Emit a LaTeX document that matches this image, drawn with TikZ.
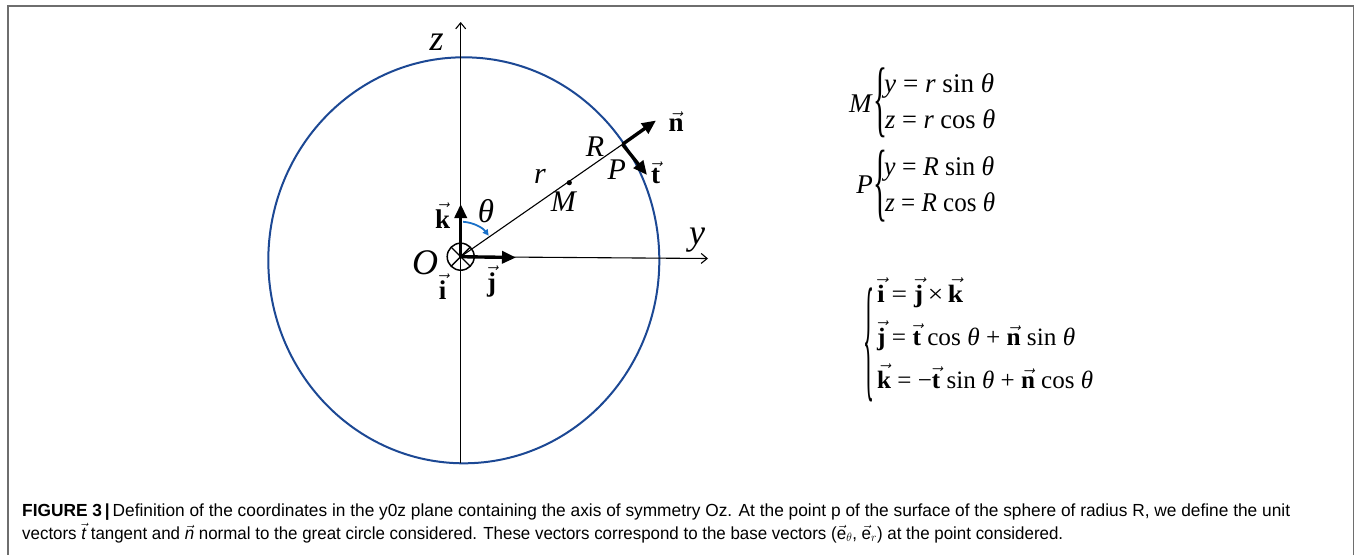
\documentclass[tikz,border=0pt]{standalone}
\usepackage{fontspec}
\setmainfont{Liberation Serif}
\setsansfont{Liberation Sans}
\usetikzlibrary{arrows.meta,calc}
\definecolor{circblue}{RGB}{28,72,148}
\definecolor{arcblue}{RGB}{25,112,200}
\definecolor{framegray}{RGB}{110,110,110}
\newcommand\bvec[1]{\ensuremath{\vec{\textbf{#1}}}}
\newcommand\fsz[1]{\fontsize{#1}{#1}\selectfont}
\newcommand\bigbrace[2]{\resizebox*{#1}{#2}{\fontsize{30}{30}\selectfont\{}}
\tikzset{
  axisline/.style={line width=1.1pt,-{Straight Barb[length=6pt,width=10pt,line width=1.1pt]}},
  vecarrow/.style={line width=3.4pt,-{Triangle[length=14pt,width=12pt]}},
  thinline/.style={line width=1.1pt},
  lblbig/.style={inner sep=0pt,font=\fsz{36}\itshape},
  lblmid/.style={inner sep=0pt,font=\fsz{30}\itshape},
  lblvec/.style={inner sep=0pt,font=\fsz{27}},
  eqrow/.style={inner sep=0pt,anchor=base west,font=\fsz{27}},
  vecrow/.style={inner sep=0pt,anchor=base west,font=\fsz{25}},
  bracenode/.style={inner sep=0pt},
  caprow/.style={inner sep=0pt,anchor=base west,font=\fsz{17.5}\sffamily},
}
\begin{document}
\begin{tikzpicture}[x=1pt,y=-1pt]
\useasboundingbox (0,0) rectangle (1356,554);
% frame
\draw[framegray,line width=1.6pt] (8,556) -- (8,6) -- (1353.5,6) -- (1353.5,556);

% sphere (great circle)
\coordinate (C) at (463.8,260.3);
\draw[circblue,line width=2pt] (C) ellipse[x radius=195.5,y radius=203];

% points
\coordinate (O) at (460.7,256.7);
\coordinate (zbot) at (460.7,463.3);
\coordinate (ztip) at (460.7,22);
\coordinate (ytip) at (708,258.5);
\coordinate (P) at (622.5,144.3);
\coordinate (M) at (569.3,182.7);
\coordinate (ktip) at (460.7,204);
\coordinate (jtip) at (516,257.5);
\coordinate (ntip) at (656,120.5);
\coordinate (ttip) at (647,175);

% axes
\draw[axisline] (zbot) -- (ztip);
\draw[axisline] (O) -- (ytip);
% ray O-P
\draw[thinline] (O) -- (P);
\fill (M) circle (2.6);
% vectors
\draw[vecarrow] (O) -- (ktip);
\draw[vecarrow] (O) -- (jtip);
\draw[vecarrow] (P) -- (ntip);
\draw[vecarrow] (P) -- (ttip);
% i vector (into the page)
\draw[line width=1.5pt] (O) circle (13.5);
\draw[line width=1.3pt] ($(O)+(-45:13.5)$) -- ($(O)+(135:13.5)$);
\draw[line width=1.3pt] ($(O)+(45:13.5)$) -- ($(O)+(-135:13.5)$);
% angle theta
\draw[arcblue,line width=1.8pt,-{Triangle[length=6pt,width=6pt]}]
  ($(O)+(-86:35)$) arc[start angle=-86,end angle=-37,radius=35];

% labels
\node[lblbig] (lz) at (436.7,42) {z};
\node[lblbig] (ly) at (697,240) {y};
\node[lblbig] (lO) at (425,262.7) {O};
\node[lblmid] (lr) at (540,176.7) {r};
\node[lblmid] (lM) at (563.3,202) {M};
\node[lblmid] (lR) at (595,146.7) {R};
\node[lblmid] (lP) at (616.7,170) {P};
\node[lblmid,font=\fsz{33}\itshape] (lth) at (486,210.7) {θ};
\node[lblvec] (lk) at (442.7,216) {\bvec{k}};
\node[lblvec] (li) at (442.7,286.7) {\bvec{i}};
\node[lblvec] (lj) at (491.7,281.7) {\bvec{j}};
\node[lblvec] (ln) at (676,122) {\bvec{n}};
\node[lblvec] (lt) at (655.5,173) {\bvec{t}};

% equations for M
\node[eqrow,anchor=base east] (eMl) at (873,112) {\textit{M}};
\node[bracenode] (bM) at (880,103) {\bigbrace{14pt}{70pt}};
\node[eqrow] (eM1) at (884,92) {\resizebox{110pt}{\height}{\textit{y} = \textit{r} sin \textit{θ}}};
\node[eqrow] (eM2) at (885,128.3) {\resizebox{110pt}{\height}{\textit{z} = \textit{r} cos \textit{θ}}};
% equations for P
\node[eqrow,anchor=base east] (ePl) at (873,193.5) {\textit{P}};
\node[bracenode] (bP) at (880,186) {\bigbrace{14pt}{72pt}};
\node[eqrow] (eP1) at (884,175) {\resizebox{110pt}{\height}{\textit{y} = \textit{R} sin \textit{θ}}};
\node[eqrow] (eP2) at (885,211.7) {\resizebox{110pt}{\height}{\textit{z} = \textit{R} cos \textit{θ}}};
% base vectors
\node[bracenode] (bV) at (869,345) {\bigbrace{11pt}{114pt}};
\node[vecrow] (eV1) at (877,302) {\resizebox{86pt}{\height}{\bvec{i} = \bvec{j}\,×\,\bvec{k}}};
\node[vecrow] (eV2) at (877,345) {\resizebox{198pt}{\height}{\bvec{j} = \bvec{t} cos \textit{θ} + \bvec{n} sin \textit{θ}}};
\node[vecrow] (eV3) at (877,388) {\resizebox{216pt}{\height}{\bvec{k} = −\bvec{t} sin \textit{θ} + \bvec{n} cos \textit{θ}}};

% caption
\node[caprow] (cap1) at (22,516) {\resizebox{1268pt}{\height}{\textbf{FIGURE 3\,|}\,Definition of the coordinates in the y0z plane containing the axis of symmetry Oz. At the point p of the surface of the sphere of radius R, we define the unit}};
\node[caprow] (cap2) at (22,539) {\resizebox{1041pt}{\height}{vectors $\vec{\mbox{\itshape t}}$ tangent and $\vec{\mbox{\itshape n}}$ normal to the great circle considered. These vectors correspond to the base vectors ($\vec{\mbox{e}}_{\theta}$, $\vec{\mbox{e}}_{r}$) at the point considered.}};
\end{tikzpicture}
\end{document}
